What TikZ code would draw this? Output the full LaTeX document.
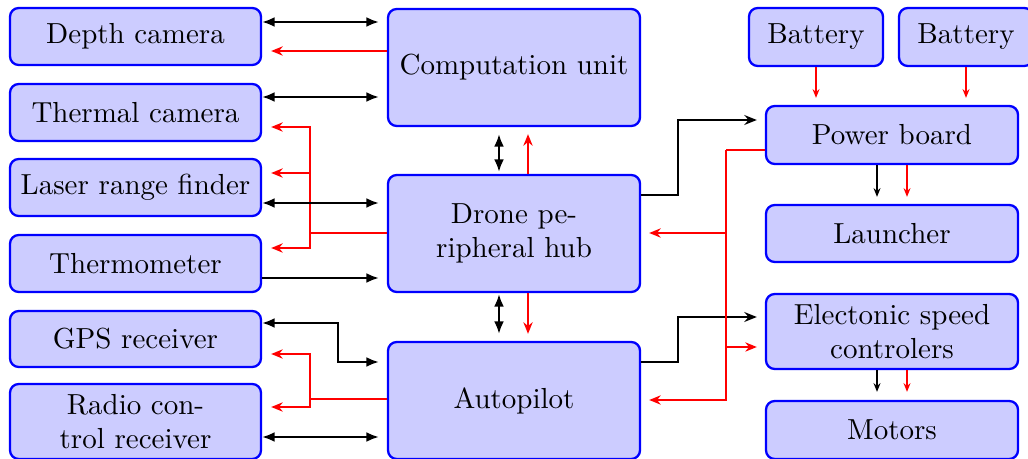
\documentclass[tikz,border=0pt]{standalone}
\usetikzlibrary{arrows.meta}
% one drawing unit in points
\newcommand\pxu{0.3448pt}
\tikzset{
  tipblk/.tip={Latex[length=4.3pt,width=3.4pt]},
  tipstl/.tip={Stealth[length=4.3pt,width=3.4pt,inset=1.4pt]},
  tipred/.tip={Stealth[length=4pt,width=3.2pt,inset=1.3pt]},
  tipsml/.tip={Stealth[length=3pt,width=2.4pt,inset=1pt]},
}
\begin{document}
\begin{tikzpicture}[x=0.3448pt,y=-0.3448pt,
  box/.style={draw=blue,fill=blue!20,line width=0.8pt,rounded corners=3pt,
    align=center,inner sep=0pt,minimum width=251*\pxu,minimum height=57*\pxu},
  bigbox/.style={box,minimum width=252*\pxu,minimum height=117*\pxu},
  batbox/.style={box,minimum width=134*\pxu,minimum height=58*\pxu},
  blk/.style={draw=black,line width=0.7pt},
  dblk/.style={blk,tipblk-tipblk},
  oblk/.style={blk,-tipblk},
  sblk/.style={blk,-tipstl},
  rdl/.style={draw=red,line width=0.6pt},
  rda/.style={rdl,-tipred},
  smb/.style={draw=black,line width=0.5pt,-tipsml},
  smr/.style={draw=red,line width=0.5pt,-tipsml},
  gapR/.style={shorten >=8*\pxu},
  gapL/.style={shorten >=9*\pxu},
]
\useasboundingbox (0,0) rectangle (1028,459);

% sensors
\node[box] (depth)   at (135.5,36.5)  {Depth camera};
\node[box] (thermal) at (135.5,112.5) {Thermal camera};
\node[box] (laser)   at (135.5,187.5) {Laser range finder};
\node[box] (thermo)  at (135.5,263.5) {Thermometer};
\node[box,minimum height=56*\pxu] (gps) at (135.5,339) {GPS receiver};
\node[box,minimum height=75*\pxu] (radio) at (135.5,421.5) {Radio con-\\trol receiver};

% core units
\node[bigbox] (comp) at (514,67.5)  {Computation unit};
\node[bigbox] (hub)  at (514,233.5) {Drone pe-\\ripheral hub};
\node[bigbox] (ap)   at (514,400.5) {Autopilot};

% power and propulsion
\node[batbox] (bat1) at (816,37) {Battery};
\node[batbox] (bat2) at (966,37) {Battery};
\node[box,minimum width=252*\pxu,minimum height=58*\pxu] (power)  at (892,135)   {Power board};
\node[box,minimum width=252*\pxu] (launch) at (892,233.5) {Launcher};
\node[box,minimum width=252*\pxu,minimum height=75*\pxu] (esc) at (892,331.5) {Electonic speed\\controlers};
\node[box,minimum width=252*\pxu,minimum height=58*\pxu] (motors) at (892,430) {Motors};

% junction points
\coordinate (hubj)  at (310,233);
\coordinate (apj)   at (310,399);
\coordinate (gpsb)  at (338,323);
\coordinate (hubr)  at (678,195);
\coordinate (apr)   at (678,362);
\coordinate (pj)    at (726,150);

% cameras <-> computation unit
\draw[dblk,gapR] (depth.east |- 0,22) -- (comp.west |- 0,22);
\draw[rda,gapL] (comp.west |- 0,51) -- (depth.east |- 0,51);
\draw[dblk,gapR] (thermal.east |- 0,97) -- (comp.west |- 0,97);

% peripheral hub fan-out
\draw[rdl] (hub.west |- hubj) -- (hubj);
\draw[rda,gapL] (hubj) |- (thermal.east |- 0,127);
\draw[rda,gapL] (hubj |- 0,173) -- (laser.east |- 0,173);
\draw[rda,gapL] (hubj) |- (thermo.east |- 0,248);
\draw[dblk,gapR] (laser.east |- 0,203) -- (hub.west |- 0,203);
\draw[oblk,gapR] (thermo.east |- 0,278) -- (hub.west |- 0,278);

% autopilot links
\draw[dblk,gapR] (gps.east |- gpsb) -- (gpsb) |- (ap.west |- 0,362);
\draw[rdl] (ap.west |- apj) -- (apj);
\draw[rda,gapL] (apj) |- (gps.east |- 0,354);
\draw[rda,gapL] (apj) |- (radio.east |- 0,407);
\draw[dblk,gapR] (radio.east |- 0,437) -- (ap.west |- 0,437);

% vertical links in the core column
\draw[dblk,shorten <=7*\pxu,shorten >=2*\pxu] (comp.south -| 499,0) -- (hub.north -| 499,0);
\draw[rda,shorten >=7*\pxu] (hub.north -| 528,0) -- (comp.south -| 528,0);
\draw[dblk,shorten <=1*\pxu,shorten >=7*\pxu] (hub.south -| 499,0) -- (ap.north -| 499,0);
\draw[rda,shorten >=7*\pxu] (hub.south -| 528,0) -- (ap.north -| 528,0);

% power distribution
\draw[sblk,gapR] (hub.east |- hubr) -- (hubr) |- (power.west |- 0,120);
\draw[sblk,gapR] (ap.east |- apr) -- (apr) |- (esc.west |- 0,317);
\draw[rdl] (power.west |- pj) -- (pj);
\draw[rda,gapR] (pj) |- (ap.east |- 0,400);
\draw[rda,gapR] (pj |- 0,233) -- (hub.east |- 0,233);
\draw[rda,gapR] (pj |- 0,347) -- (esc.west |- 0,347);

% batteries and downstream
\draw[smr,shorten >=7*\pxu] (bat1.south) -- (bat1.south |- power.north);
\draw[smr,shorten >=7*\pxu] (bat2.south) -- (bat2.south |- power.north);
\draw[smb,shorten >=7*\pxu] (power.south -| 877,0) -- (launch.north -| 877,0);
\draw[smr,shorten >=7*\pxu] (power.south -| 907,0) -- (launch.north -| 907,0);
\draw[smb,shorten >=8*\pxu] (esc.south -| 877,0) -- (motors.north -| 877,0);
\draw[smr,shorten >=8*\pxu] (esc.south -| 907,0) -- (motors.north -| 907,0);
\end{tikzpicture}
\end{document}
